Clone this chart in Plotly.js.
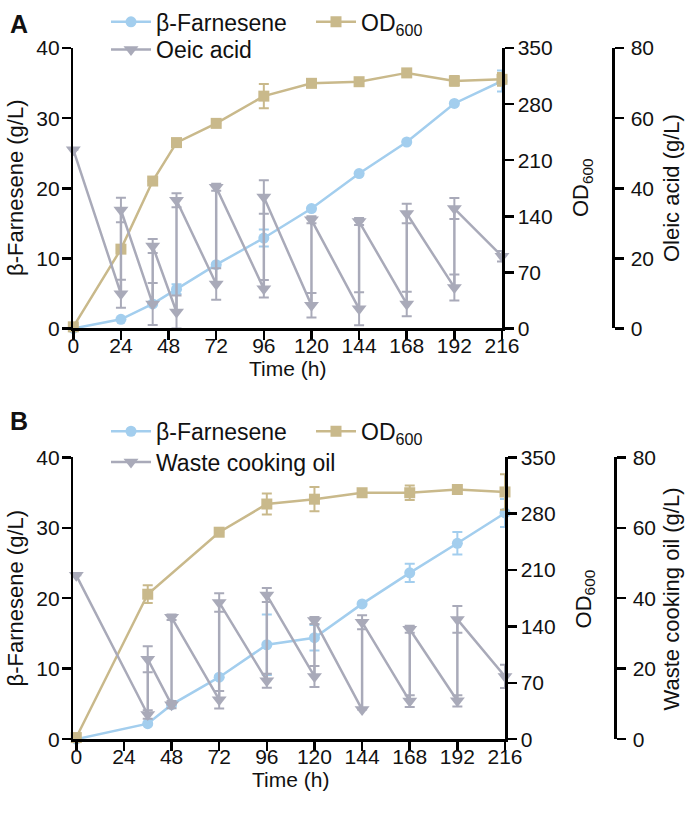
<!DOCTYPE html>
<html>
<head>
<meta charset="utf-8">
<script src="https://cdn.plot.ly/plotly-3.0.1.min.js"></script>
<style>html,body{margin:0;padding:0;background:#fff}#chart{width:685px;height:818px}</style>
</head>
<body>
<div id="chart"></div>
<script>
// ---------- Panel A data ----------
const timeA = [0, 24, 40, 52, 72, 96, 120, 144, 168, 192, 216];
const farnA = [0, 1.3, 3.5, 5.6, 9.1, 12.9, 17.1, 22.1, 26.6, 32.1, 35.3];
const farnAErr = [0, 0, 0, 0.7, 0, 1.2, 0, 0, 0, 0, 1.5];
const odA = [2, 99, 184, 232, 256, 290, 306, 308, 319, 309, 311];
const odAErr = [0, 0, 0, 0, 0, 15, 5, 0, 3, 6, 8];
const oleicTime = [0, 24, 24, 40, 40, 52, 52, 72, 72, 96, 96, 120, 120, 144, 144, 168, 168, 192, 192, 216];
const oleic = [51, 9.9, 33.8, 7.0, 23.5, 4.7, 36.6, 12.7, 40.3, 11.3, 37.5, 6.6, 31, 5.6, 30.5, 7.0, 32.8, 11.7, 34.2, 20.6];
const oleicErr = [0, 4, 3.5, 6, 2, 4.7, 2, 4.5, 1, 2.5, 4.8, 3.5, 1, 4.7, 1, 3.5, 2.8, 3.7, 3, 1.5];

// ---------- Panel B data ----------
const timeBF = [0, 36, 48, 72, 96, 120, 144, 168, 192, 216];
const farnB = [0, 2.2, 4.9, 8.8, 13.4, 14.4, 19.2, 23.6, 27.8, 32.1];
const farnBErr = [0, 0, 0, 0, 4.3, 1.8, 0, 1.3, 1.6, 2];
const timeBOD = [0, 36, 72, 96, 120, 144, 168, 192, 216];
const odB = [2, 180, 257, 292, 298, 306, 306, 310, 307];
const odBErr = [0, 11, 0, 13, 15, 0, 9, 0, 22];
const wcoTime = [0, 36, 36, 48, 48, 72, 72, 96, 96, 120, 120, 144, 144, 168, 168, 192, 192, 216];
const wco = [46.5, 7.0, 22.7, 9.8, 34.6, 11.2, 38.8, 16.6, 40.9, 17.8, 33.7, 8.4, 33.2, 10.8, 31.2, 10.9, 34, 17.8];
const wcoErr = [0, 1.2, 3.7, 1, 0.8, 2.5, 2.6, 2, 2, 3, 1, 0, 2, 1.7, 1, 1.6, 3.8, 3.3];

const timeTicks = [0, 24, 48, 72, 96, 120, 144, 168, 192, 216];

const BLUE = '#A3CEEE', TAN = '#C9B98B', GRAY = '#A9AAB9';
const FONT = 'Liberation Sans, Arial, sans-serif';

function tr(x, y, err, color, sym, size, name, xa, ya, legend, rank) {
  return {
    type: 'scatter', mode: 'lines+markers', x: x, y: y, name: name,
    xaxis: xa, yaxis: ya, legend: legend, legendrank: rank, cliponaxis: false,
    line: {color: color, width: 2.5},
    marker: {color: color, symbol: sym, size: size},
    error_y: {type: 'data', array: err, visible: true, color: color, thickness: 2, width: 5}
  };
}

const data = [
  tr(timeA, odA, odAErr, TAN, 'square', 11, 'OD<sub>600</sub>', 'x', 'y2', 'legend', 2),
  tr(oleicTime, oleic, oleicErr, GRAY, 'triangle-down', 13, 'Oeic acid', 'x', 'y3', 'legend2', 1),
  tr(timeA, farnA, farnAErr, BLUE, 'circle', 11, 'β-Farnesene', 'x', 'y', 'legend', 1),
  tr(timeBOD, odB, odBErr, TAN, 'square', 11, 'OD<sub>600</sub>', 'x2', 'y5', 'legend3', 2),
  tr(wcoTime, wco, wcoErr, GRAY, 'triangle-down', 13, 'Waste cooking oil', 'x2', 'y6', 'legend4', 1),
  tr(timeBF, farnB, farnBErr, BLUE, 'circle', 11, 'β-Farnesene', 'x2', 'y4', 'legend3', 1)
];

const W = 685, H = 818;
const px = v => v / W, py = v => (H - v) / H;

const axBase = {
  showline: true, linecolor: '#000', linewidth: 2.5, ticks: 'outside', ticklen: 9, tickwidth: 2.5,
  tickcolor: '#000', showgrid: false, zeroline: false, fixedrange: true,
  tickfont: {family: FONT, size: 21, color: '#111'}
};
const xa = (dom, rng, anchor) => Object.assign({}, axBase, {domain: dom, range: rng, anchor: anchor, tickvals: timeTicks, ticklabelstandoff: -12});
const ya = (dom, rng, dt, anchor, extra) => Object.assign({}, axBase, {domain: dom, range: rng, dtick: dt, tick0: 0, anchor: anchor}, extra || {});

const domA = [py(323), py(39.5)];
const domB = [py(738.3), py(453.3)];

const legBase = {orientation: 'h', xanchor: 'left', yanchor: 'middle', bgcolor: 'rgba(0,0,0,0)',
  font: {family: FONT, size: 23, color: '#111'}, itemwidth: 40, entrywidth: 150, entrywidthmode: 'pixels', traceorder: 'normal'};

function ann(text, x, y, angle, size, bold) {
  return {text: bold ? '<b>' + text + '</b>' : text, x: px(x), y: py(y), xref: 'paper', yref: 'paper',
    showarrow: false, textangle: angle, xanchor: 'center', yanchor: 'middle',
    font: {family: FONT, size: size, color: '#111'}};
}

const layout = {
  width: W, height: H, margin: {l: 0, r: 0, t: 0, b: 0},
  paper_bgcolor: '#fff', plot_bgcolor: 'rgba(0,0,0,0)', showlegend: true,
  xaxis: xa([px(73.3), px(502)], [0, 216], 'y'),
  yaxis: ya(domA, [0, 40], 10, 'x', {ticklabelstandoff: -2}),
  yaxis2: ya(domA, [0, 350], 70, 'x', {overlaying: 'y', side: 'right'}),
  yaxis3: ya(domA, [0, 80], 20, 'free', {overlaying: 'y', side: 'right', position: px(613), ticklabelstandoff: 3}),
  xaxis2: xa([px(73.3), px(505)], [-1.5, 216], 'y4'),
  yaxis4: ya(domB, [0, 40], 10, 'x2', {ticklabelstandoff: -2}),
  yaxis5: ya(domB, [0, 350], 70, 'x2', {overlaying: 'y4', side: 'right'}),
  yaxis6: ya(domB, [0, 80], 20, 'free', {overlaying: 'y4', side: 'right', position: px(615), ticklabelstandoff: 3}),
  legend: Object.assign({}, legBase, {x: px(106), y: py(13)}),
  legend2: Object.assign({}, legBase, {x: px(106), y: py(41), entrywidth: 300}),
  legend3: Object.assign({}, legBase, {x: px(106), y: py(427)}),
  legend4: Object.assign({}, legBase, {x: px(106), y: py(458), entrywidth: 300}),
  annotations: [
    ann('A', 19, 15, 0, 25, true),
    ann('B', 19, 417, 0, 25, true),
    ann('β-Farnesene (g/L)', 15, 181, -90, 22),
    ann('OD<sub>600</sub>', 582, 181, -90, 22),
    ann('Oleic acid (g/L)', 671, 181, -90, 22),
    ann('Time (h)', 287, 363, 0, 21),
    ann('β-Farnesene (g/L)', 15, 596, -90, 22),
    ann('OD<sub>600</sub>', 585, 597, -90, 22),
    ann('Waste cooking oil (g/L)', 671, 597, -90, 22),
    ann('Time (h)', 290, 779, 0, 21)
  ]
};

Plotly.newPlot('chart', data, layout, {displayModeBar: false, staticPlot: true});
</script>
</body>
</html>
